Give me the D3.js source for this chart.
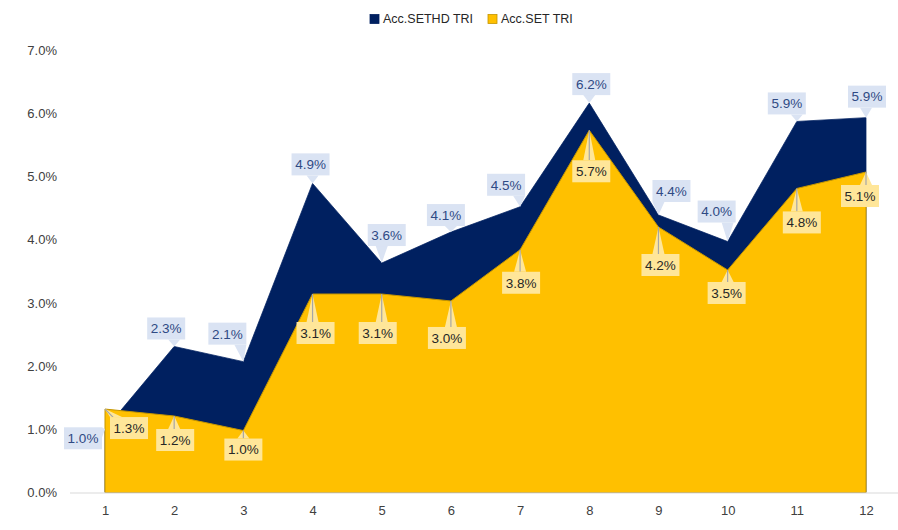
<!DOCTYPE html>
<html>
<head>
<meta charset="utf-8">
<script src="https://cdn.jsdelivr.net/npm/d3@7"></script>
<style>
  html, body { margin: 0; padding: 0; background: #ffffff; }
  svg { display: block; }
  text { font-family: "Liberation Sans", Arial, sans-serif; }
</style>
</head>
<body>
<div id="chart"></div>
<script>
// ---- data ----
const categories = ["1","2","3","4","5","6","7","8","9","10","11","12"];
const sethdValues = [0.0100, 0.0231, 0.0207, 0.0489, 0.0363, 0.0412, 0.0452, 0.0616, 0.0439, 0.0397, 0.0587, 0.0593];
const setValues   = [0.0132, 0.0121, 0.0098, 0.0314, 0.0314, 0.0303, 0.0384, 0.0573, 0.0420, 0.0352, 0.0481, 0.0507];
const yTickValues = [0, 0.01, 0.02, 0.03, 0.04, 0.05, 0.06, 0.07];
const seriesNames = ["Acc.SETHD TRI", "Acc.SET TRI"];

// label placement offsets (px, relative to the data point)
const sethdLabelOffsets = [[-22,9],[-8,-18],[-16,-28],[-2,-19],[5,-28],[-5,-17],[-14,-22],[2,-19],[13,-24],[-11,-30],[-10,-18],[1,-21]];
const setLabelOffsets   = [[24,19],[1,24],[0,19],[3,39],[-4,39],[-4,37],[1,33],[2,41],[2,38],[-1,23],[5,34],[-6,24]];

// ---- layout ----
const W = 898, H = 530;
const navy = "#002060", gold = "#FFC000";
const svg = d3.select("#chart").append("svg").attr("width", W).attr("height", H);

const x = d3.scalePoint().domain(categories).range([105, 866]);
const y = d3.scaleLinear().domain([0, 0.07]).range([492.5, 50]);

// areas
const area = d3.area()
  .x((d, i) => x(categories[i]))
  .y0(y(0))
  .y1(d => y(d));

svg.append("path").datum(sethdValues).attr("d", area)
  .attr("fill", navy).attr("stroke", navy).attr("stroke-width", 0.75);
svg.append("path").datum(setValues).attr("d", area)
  .attr("fill", gold).attr("stroke", "#C49500").attr("stroke-width", 1);

// baseline
svg.append("line").attr("x1", 70).attr("x2", 898).attr("y1", y(0)+0.5).attr("y2", y(0)+0.5)
  .attr("stroke", "#d9d9d9").attr("stroke-width", 1.2);

// y axis
const yAxis = svg.append("g").attr("transform", "translate(57,0)")
  .call(d3.axisLeft(y).tickValues(yTickValues).tickFormat(d3.format(".1%")).tickSize(0).tickPadding(0));
yAxis.select(".domain").remove();
yAxis.selectAll("text").attr("fill", "#404040").style("font-size", "13px");

// x axis
const xAxis = svg.append("g").attr("transform", `translate(0,${y(0)})`)
  .call(d3.axisBottom(x).tickSize(0).tickPadding(13));
xAxis.select(".domain").remove();
xAxis.selectAll("text").attr("fill", "#404040").style("font-size", "13px");

// callouts
function callouts(values, offsets, fill, textColor, leader) {
  const bw = 38, bh = 22;
  const g = svg.append("g");
  values.forEach((v, i) => {
    const px = x(categories[i]), py = y(v);
    const cx = px + offsets[i][0], cy = py + offsets[i][1];
    const x0 = cx - bw/2, x1 = cx + bw/2, y0 = cy - bh/2, y1 = cy + bh/2;
    let tri;
    const clamp = (a, lo, hi) => Math.max(lo, Math.min(hi, a));
    if (py > y1) {
      const bx = clamp(px, x0 + 6, x1 - 6);
      tri = [[bx - 6, y1], [bx + 6, y1], [px, py]];
    } else if (py < y0) {
      const bx = clamp(px, x0 + 6, x1 - 6);
      tri = [[bx - 6, y0], [bx + 6, y0], [px, py]];
    } else if (px > x1) {
      const by = clamp(py, y0 + 5, y1 - 5);
      tri = [[x1, by - 5], [x1, by + 5], [px, py]];
    } else {
      const by = clamp(py, y0 + 5, y1 - 5);
      tri = [[x0, by - 5], [x0, by + 5], [px, py]];
    }
    g.append("path").attr("d", d3.line()(tri) + "Z").attr("fill", fill);
    if (leader) {
      const ey = py > y1 ? y1 : (py < y0 ? y0 : cy);
      const ex = clamp(px, x0 + 3, x1 - 3);
      g.append("line").attr("x1", px).attr("y1", py).attr("x2", ex).attr("y2", ey)
        .attr("stroke", "#a6a6a6").attr("stroke-width", 1.2);
    }
    g.append("rect").attr("x", x0).attr("y", y0).attr("width", bw).attr("height", bh).attr("fill", fill);
    g.append("text").attr("x", cx).attr("y", cy).attr("text-anchor", "middle").attr("dy", "0.36em")
      .attr("fill", textColor).style("font-size", "13.5px").text(d3.format(".1%")(v));
  });
}
callouts(sethdValues, sethdLabelOffsets, "#DAE3F3", "#2F4A84", false);
callouts(setValues, setLabelOffsets, "#FFE699", "#262626", true);

// legend
const legend = svg.append("g").attr("transform", "translate(370,19)");
const legendColors = [navy, gold];
const legendX = [0, 118];
seriesNames.forEach((n, i) => {
  const lg = legend.append("g").attr("transform", `translate(${legendX[i]},0)`);
  lg.append("rect").attr("x", 0).attr("y", -4.5).attr("width", 9).attr("height", 9)
    .attr("fill", legendColors[i]).attr("stroke", i === 1 ? "#C49500" : navy).attr("stroke-width", 0.8);
  lg.append("text").attr("x", 13).attr("y", 0).attr("dy", "0.35em")
    .attr("fill", "#262626").style("font-size", "12.5px").text(n);
});
</script>
</body>
</html>
